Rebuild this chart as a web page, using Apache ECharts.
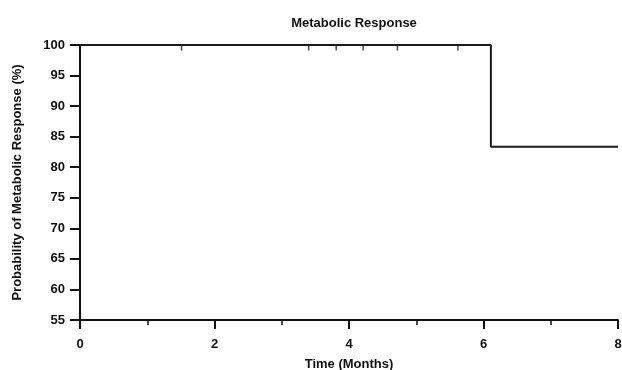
<!DOCTYPE html>
<html><head><meta charset="utf-8">
<script src="https://cdn.jsdelivr.net/npm/echarts@6/dist/echarts.min.js"></script>
<style>html,body{margin:0;padding:0;background:#fff}#c{width:622px;height:370px}</style>
</head><body><div id="c"></div>
<script>
const stepTimes = [0, 6.11, 8];
const survival = [100, 83.33, 83.33];
const censorTimes = [1.51, 3.40, 3.81, 4.21, 4.72, 5.62];
const censorSurv = [100, 100, 100, 100, 100, 100];
const xTicks = [0, 2, 4, 6, 8];
const yTicks = [55, 60, 65, 70, 75, 80, 85, 90, 95, 100];

const font = 'Liberation Sans, Arial, sans-serif';
const chart = echarts.init(document.getElementById('c'));
chart.setOption({
  animation: false,
  backgroundColor: '#fff',
  title: {
    text: 'Metabolic Response', left: 349, top: 12, textAlign: 'center',
    textStyle: {fontFamily: font, fontSize: 13, fontWeight: 'bold', color: '#111'}
  },
  grid: {left: 80, right: 4, top: 45, bottom: 50, containLabel: false, outerBoundsMode: 'none'},
  xAxis: {
    type: 'value', min: xTicks[0], max: xTicks[xTicks.length-1], interval: 2,
    name: 'Time (Months)', nameLocation: 'middle', nameGap: 38,
    nameTextStyle: {fontFamily: font, fontSize: 13, fontWeight: 'bold', color: '#111'},
    axisLine: {show: true, onZero: false, lineStyle: {color: '#111', width: 2}},
    axisTick: {show: true, length: 9, lineStyle: {color: '#111', width: 2}},
    minorTick: {show: true, splitNumber: 2, length: 5, lineStyle: {color: '#111', width: 1.5}},
    axisLabel: {fontFamily: font, fontSize: 13, fontWeight: 'bold', color: '#111', margin: 18},
    splitLine: {show: false}
  },
  yAxis: {
    type: 'value', min: yTicks[0], max: yTicks[yTicks.length-1], interval: 5,
    name: 'Probability of Metabolic Response (%)', nameLocation: 'middle', nameGap: 56,
    nameTextStyle: {fontFamily: font, fontSize: 13, fontWeight: 'bold', color: '#111'},
    axisLine: {show: true, lineStyle: {color: '#111', width: 2}},
    axisTick: {show: true, length: 10, lineStyle: {color: '#111', width: 2}},
    axisLabel: {fontFamily: font, fontSize: 13, fontWeight: 'bold', color: '#111', margin: 15},
    splitLine: {show: false}
  },
  series: [
    {
      type: 'line', step: 'end', symbol: 'none',
      data: stepTimes.map((t, i) => [t, survival[i]]),
      lineStyle: {color: '#1a1a1a', width: 2}
    },
    {
      type: 'scatter', symbol: 'rect', symbolSize: [1.5, 5], symbolOffset: [0, 3],
      data: censorTimes.map((t, i) => [t, censorSurv[i]]),
      itemStyle: {color: '#1a1a1a'}
    }
  ]
});
</script></body></html>
